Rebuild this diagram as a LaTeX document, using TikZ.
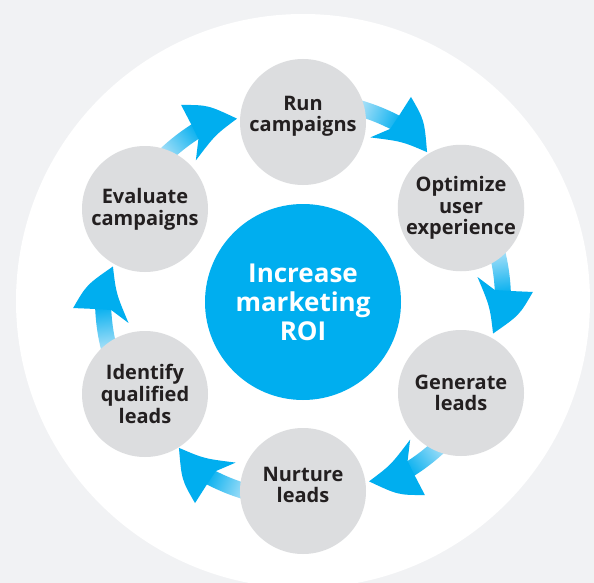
\documentclass[tikz,border=0pt]{standalone}
\usepackage{fontspec}
\setmainfont{Open Sans}

\definecolor{pagegray}{HTML}{F1F2F4}
\definecolor{stagegray}{HTML}{DCDDDF}
\definecolor{roiblue}{HTML}{00AEEF}
\definecolor{taillight}{HTML}{A8E0F8}
\definecolor{inkdark}{HTML}{231F20}

\tikzset{
	stage/.style={circle, fill=stagegray, minimum size=126pt, inner sep=0pt,
		align=center, text=inkdark, font=\bfseries\fontsize{20}{21.7}\selectfont},
	goal/.style={circle, fill=roiblue, minimum size=196pt, inner sep=0pt,
		align=center, text=white, font=\bfseries\fontsize{26}{29}\selectfont},
	lifted/.style={text depth=#1},
}

\begin{document}
\begin{tikzpicture}[x=1pt,y=1pt]
	%
	\fill [pagegray] (0,0) rectangle (594,-583);
	\useasboundingbox (0,0) rectangle (594,-583);
	\fill [white] (303,-301) circle [radius=287pt];
	%
	% curved arrows on the ring, tips at 50, -10, ... degrees
	\begin{scope}[shift={(303,-300)}]
		\foreach \t in {50,-10,-70,-130,170,110} {
			\shade [top color=taillight, bottom color=roiblue, shading angle={\t+18}]
				({\t+24}:192pt) arc [start angle={\t+24}, end angle={\t+11}, radius=192pt]
				-- ({\t+11}:208pt) arc [start angle={\t+11}, end angle={\t+24}, radius=208pt]
				-- cycle;
			\fill [roiblue] ({\t+12.5}:207pt) -- ({\t+12}:230pt)
				.. controls ({\t+6}:217pt) .. (\t:193pt)
				.. controls ({\t+8}:187pt) .. ({\t+17.5}:176pt)
				-- ({\t+13}:192pt) -- cycle;
		}
	\end{scope}
	%
	\node [goal] (roi) at (303,-302) {Increase\\marketing\\ROI};
	\node [stage, lifted=16pt] (run) at (303,-122) {Run\\campaigns};
	\node [stage] (optimize) at (461,-208) {Optimize\\user\\experience};
	\node [stage] (generate) at (461,-393) {Generate\\leads};
	\node [stage, lifted=12pt] (nurture) at (303,-491) {Nurture\\leads};
	\node [stage] (identify) at (145,-394) {Identify\\qualified\\leads};
	\node [stage] (evaluate) at (145,-209) {Evaluate\\campaigns};
\end{tikzpicture}
\end{document}
